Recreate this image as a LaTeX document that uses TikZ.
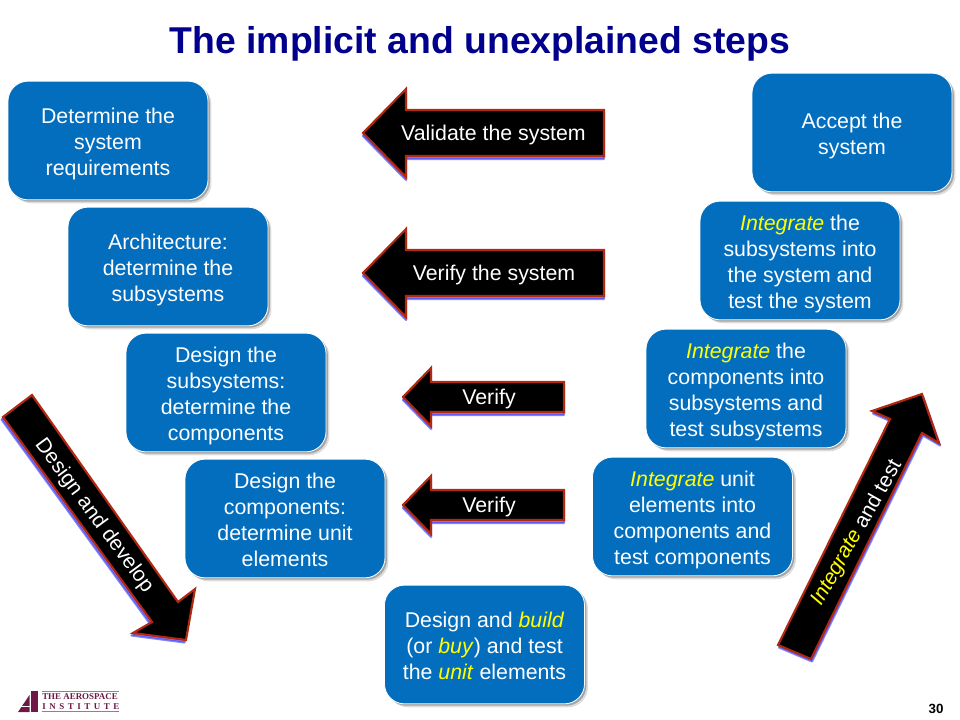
\documentclass[tikz,border=0pt]{standalone}
\usepackage{fontspec}
\setmainfont{Liberation Sans}
\newfontfamily\logofont{Liberation Serif}
\usetikzlibrary{shadows,positioning}
\definecolor{boxblue}{RGB}{4,110,190}
\definecolor{titleblue}{RGB}{0,0,140}
\definecolor{arrowred}{RGB}{178,40,16}
\definecolor{shadowblue}{RGB}{70,70,245}
\definecolor{logored}{RGB}{110,25,70}
\definecolor{hiyellow}{RGB}{255,255,0}
\newcommand{\hi}[1]{\textcolor{hiyellow}{\textit{#1}}}
\newcommand{\toplead}{\rule{0pt}{17.5pt}}
\tikzset{
  stepbox/.style={draw=white, line width=0.6pt, fill=boxblue, rounded corners=15pt, text=white,
    minimum width=150pt, minimum height=89pt, align=center, font=\fontsize{16}{19.5}\selectfont,
    execute at end node=\rule[-4pt]{0pt}{4pt},
    drop shadow={shadow xshift=2.6pt, shadow yshift=-2.6pt, fill=black!30, opacity=0.45},
    drop shadow={shadow xshift=1.4pt, shadow yshift=-1.4pt, fill=black!50, opacity=0.6}},
  arrowline/.style={draw=arrowred, line width=1.6pt, fill=black, line join=miter},
  arrowshade/.style={fill=shadowblue, draw=shadowblue, line width=1.6pt, opacity=0.65, line join=round},
  arrowtext/.style={text=white, font=\fontsize{16}{19}\selectfont, inner sep=0pt}
}
\begin{document}
\begin{tikzpicture}[x=0.75pt,y=-0.75pt]
  \useasboundingbox (0,0) rectangle (960,720);
  % Define title
  \node[text=titleblue, font=\bfseries\fontsize{28}{33}\selectfont, inner sep=0pt] (title) at (480,44) {The implicit and unexplained steps};
  % Define boxes
  \node[stepbox] (req) at (108,140.5) {\toplead Determine the\\system\\requirements};
  \node[stepbox] (arch) at (168,266.5) {\toplead Architecture:\\determine the\\subsystems};
  \node[stepbox] (dsub) at (226,392.5) {\toplead Design the\\subsystems:\\determine the\\components};
  \node[stepbox] (dcomp) at (285,518.5) {\toplead Design the\\components:\\determine unit\\elements};
  \node[stepbox] (unit) at (484.5,644.5) {\toplead Design and \hi{build}\\(or \hi{buy}) and test\\the \hi{unit} elements};
  \node[stepbox] (accept) at (852,132.5) {\toplead Accept the\\system};
  \node[stepbox] (isys) at (800,260.5) {\toplead\hi{Integrate} the\\subsystems into\\the system and\\test the system};
  \node[stepbox] (isub) at (746,388.5) {\toplead\hi{Integrate} the\\components into\\subsystems and\\test subsystems};
  \node[stepbox] (icomp) at (692.5,516.5) {\toplead\hi{Integrate} unit\\elements into\\components and\\test components};
  % Define arrows
  \foreach \nm/\tipx/\tipy/\headx/\endx/\hh/\sh in {
    val/363/133/406/604/44/23,
    ver/363/273/406/604/44/23,
    vsub/403/397/431/564/29/15,
    vcomp/403/505/431/564/29/15}{
    \fill[arrowshade] (\tipx,\tipy+3) -- (\headx,\tipy-\hh+3) -- (\headx,\tipy-\sh+3) -- (\endx,\tipy-\sh+3)
      -- (\endx,\tipy+\sh+3) -- (\headx,\tipy+\sh+3) -- (\headx,\tipy+\hh+3) -- cycle;
    \draw[arrowline] (\tipx,\tipy) coordinate (\nm) -- (\headx,\tipy-\hh) -- (\headx,\tipy-\sh) -- (\endx,\tipy-\sh)
      -- (\endx,\tipy+\sh) -- (\headx,\tipy+\sh) -- (\headx,\tipy+\hh) -- cycle;
  }
  \node[arrowtext] (valt) at (493.5,135) {Validate the system};
  \node[arrowtext] (vert) at (494,275) {Verify the system};
  \node[arrowtext] (vsubt) at (489,399) {Verify};
  \node[arrowtext] (vcompt) at (489,507) {Verify};
  % Diagonal arrows
  \fill[arrowshade, shift={(-1.5,2.5)}] (3,417) -- (32,395) -- (178,602) -- (195,589) -- (186,640) -- (133,633) -- (152,622) -- cycle;
  \draw[arrowline] (3,417) -- (32,395) -- (178,602) -- (195,589) -- (186,640) -- (133,633) -- (152,622) -- cycle;
  \node[arrowtext, font=\fontsize{15.7}{19}\selectfont, rotate=-53.5] (down) at (94,516) {Design and develop};
  \fill[arrowshade, shift={(1,2.5)}] (778,645) -- (811,659) -- (922,433) -- (939,443) -- (922,394) -- (872,411) -- (890,419) -- cycle;
  \draw[arrowline] (778,645) -- (811,659) -- (922,433) -- (939,443) -- (922,394) -- (872,411) -- (890,419) -- cycle;
  \node[arrowtext, font=\fontsize{15.7}{19}\selectfont, rotate=60.5] (up) at (857,533) {\hi{Integrate} and test};
  % Footer
  \node[font=\bfseries\fontsize{10}{12}\selectfont, inner sep=0pt] (page) at (936,708.5) {30};
  \fill[logored] (31,691) rectangle (38,712);
  \fill[logored] (18,712) -- (29.5,695) -- (29.5,712) -- cycle;
  \fill[white] (18,705.5) rectangle (30,707);
  \draw[logored!60, line width=0.4pt] (42,691) -- (119,691) (42,711.5) -- (119,711.5);
  \node[logored, font=\logofont\bfseries\fontsize{6.7}{8}\selectfont, inner sep=0pt, anchor=west] (logoa) at (42,696.5) {THE AEROSPACE};
  \node[logored, font=\logofont\bfseries\fontsize{6.7}{8}\selectfont, inner sep=0pt, anchor=west] (logob) at (42,706.5) {\makebox[57.75pt][s]{I\hfill N\hfill S\hfill T\hfill I\hfill T\hfill U\hfill T\hfill E}};
\end{tikzpicture}
\end{document}
